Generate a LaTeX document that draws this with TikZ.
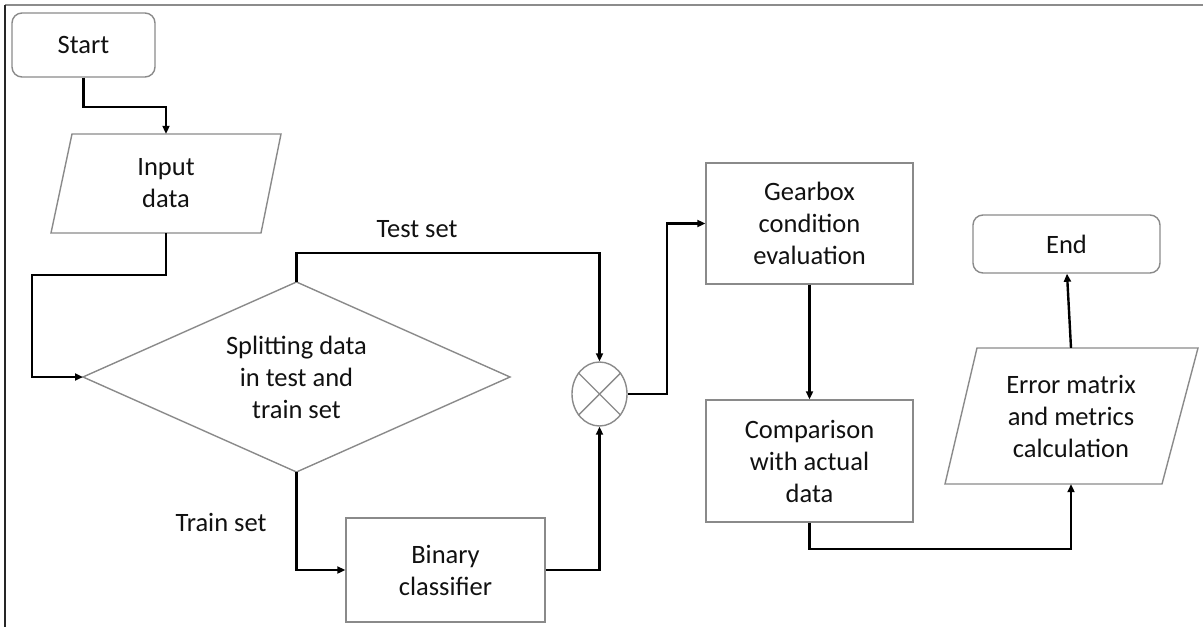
\documentclass[tikz,border=0pt]{standalone}
\usepackage{fontspec}
\setmainfont{Carlito}
\usetikzlibrary{arrows.meta,shapes.geometric,calc}
\definecolor{boxgray}{HTML}{8A8A8A}
\definecolor{txt}{HTML}{111111}
\tikzset{
  lbl/.style={font=\fontsize{26.5}{32}\selectfont, text=txt, align=center, inner sep=0pt},
  procbox/.style={lbl, draw=boxgray, line width=1.4pt, rectangle},
  termbox/.style={procbox, rounded corners=10pt},
  shapeline/.style={draw=boxgray, line width=1.4pt, line join=miter},
  conn/.style={draw=black, line width=2.4pt, -{Triangle[length=8pt,width=7pt]}},
}
\begin{document}
\begin{tikzpicture}[x=1pt,y=-1pt]
\useasboundingbox (0,0) rectangle (1203,627);
% frame
\draw[line width=2pt, draw=gray!90] (5,5) -- (1203,5);
\draw[line width=2.4pt, draw=black!85] (5,5) -- (5,627);

% nodes
\node[termbox, minimum width=143pt, minimum height=64pt] (start) at (83.5,45) {Start};
\path[shapeline] (72,134) -- (281,134) -- (261,233) -- (51,233) -- cycle;
\node[lbl, minimum height=99pt, minimum width=150pt] (input) at (166,183.5) {Input\\data};
\node[lbl, draw=boxgray, line width=1.4pt, diamond, aspect=2.25, outer sep=0pt, minimum width=427pt, minimum height=190pt] (split) at (296.5,377) {Splitting data\\in test and\\train set};
\node[lbl] (testlbl) at (417,229) {Test set};
\node[lbl] (trainlbl) at (221,522) {Train set};
\node[procbox, minimum width=199pt, minimum height=104pt] (bin) at (445.5,570) {Binary\\classifier};
\node[draw=boxgray, line width=1.4pt, ellipse, minimum width=55pt, minimum height=64pt, inner sep=0pt] (mix) at (599.5,394) {};
\draw[boxgray, line width=1.4pt] (mix.45) -- (mix.225) (mix.135) -- (mix.315);
\node[procbox, minimum width=207pt, minimum height=121pt] (gear) at (809.5,223.5) {Gearbox\\condition\\evaluation};
\node[procbox, minimum width=207pt, minimum height=122pt] (comp) at (809.5,461) {Comparison\\with actual\\data};
\path[shapeline] (977,348) -- (1198,348) -- (1162,484) -- (945,484) -- cycle;
\node[lbl, minimum height=136pt, minimum width=180pt] (err) at (1071,416) {Error matrix\\and metrics\\calculation};
\node[termbox, minimum width=187pt, minimum height=58pt] (end) at (1066.5,244) {End};

% connectors
\draw[conn] (start.south) -- ++(0,29) -| (input.north);
\draw[conn] (input.south) -- ++(0,42) -| ([xshift=-51pt]split.west) -- (split.west);
\draw[conn] (split.north) -- ++(0,-29) -| (mix.north);
\draw[conn] (split.south) |- (bin.west);
\draw[conn] (bin.east) -| (mix.south);
\draw[conn] (mix.east) -- ++(39,0) |- (gear.west);
\draw[conn] (gear.south) -- (comp.north);
\draw[conn] (comp.south) -- ++(0,26) -| (err.south);
\draw[conn] (err.north) -- ([xshift=0.5pt]end.south);
\end{tikzpicture}
\end{document}
